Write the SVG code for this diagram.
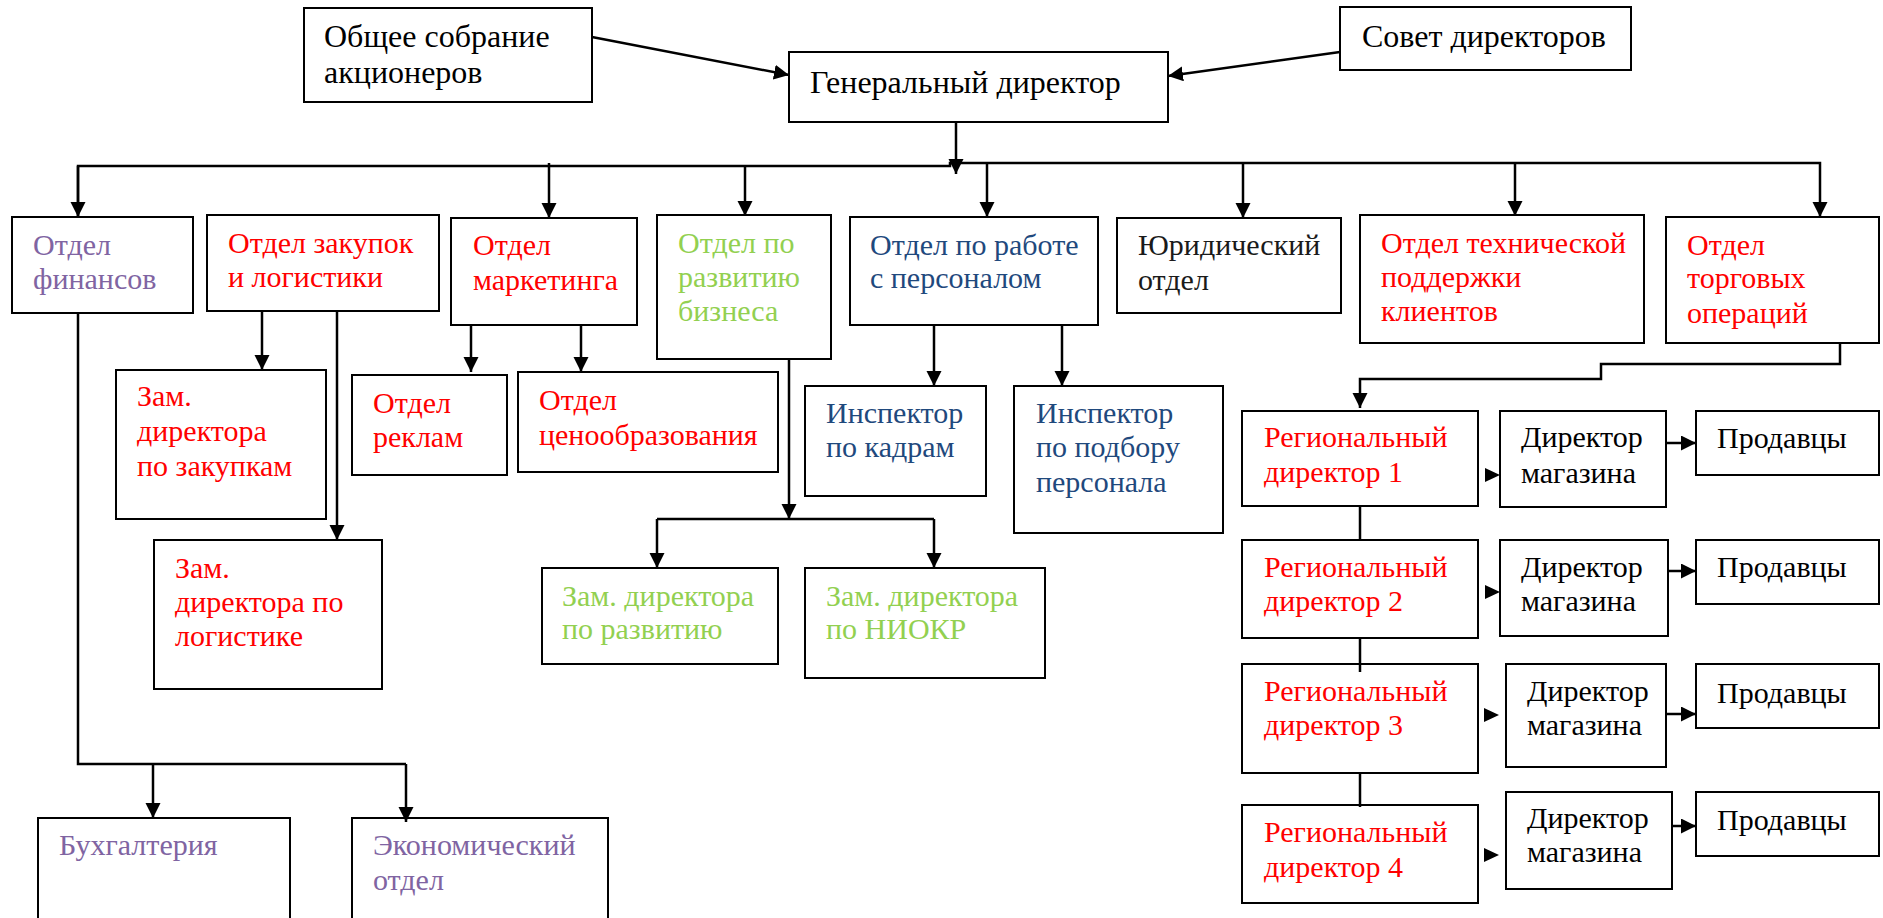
<svg xmlns="http://www.w3.org/2000/svg" width="1883" height="918" viewBox="0 0 1883 918" font-family="'Liberation Serif', serif">
<style>
rect{fill:#fff;stroke:#000;stroke-width:2}
text{font-family:'Liberation Serif','Times New Roman',serif;font-size:30px}
.big{font-size:32px}
.k{fill:#000}
.r{fill:#ff0000}
.p{fill:#8064a2}
.g{fill:#92d050}
.b{fill:#1f497d}
.c line,.c polyline{fill:none;stroke:#000;stroke-width:2.5}
.c .head{fill:#000;stroke:none}
</style>
<defs>
<marker id="ah" markerUnits="userSpaceOnUse" markerWidth="16" markerHeight="16" refX="15" refY="7.5" orient="auto">
<path d="M0,0 L15,7.5 L0,15 z" fill="#000"/>
</marker>
</defs>
<g id="n_obshchee"><rect x="304" y="8" width="288" height="94"/><text class="big k" x="324" y="47">Общее собрание</text><text class="big k" x="324" y="83">акционеров</text></g>
<g id="n_gendir"><rect x="789" y="52" width="379" height="70"/><text class="big k" x="810" y="93">Генеральный директор</text></g>
<g id="n_sovet"><rect x="1340" y="7" width="291" height="63"/><text class="big k" x="1362" y="47">Совет директоров</text></g>

<g id="n_fin"><rect x="12" y="217" width="181" height="96"/><text class="p" x="33" y="255">Отдел</text><text class="p" x="33" y="289">финансов</text></g>
<g id="n_zakup"><rect x="207" y="215" width="232" height="96"/><text class="r" x="228" y="253">Отдел закупок</text><text class="r" x="228" y="287">и логистики</text></g>
<g id="n_market"><rect x="451" y="218" width="186" height="107"/><text class="r" x="473" y="255">Отдел</text><text class="r" x="473" y="290">маркетинга</text></g>
<g id="n_razv"><rect x="657" y="215" width="174" height="144"/><text class="g" x="678" y="253">Отдел по</text><text class="g" x="678" y="287">развитию</text><text class="g" x="678" y="321">бизнеса</text></g>
<g id="n_pers"><rect x="850" y="217" width="248" height="108"/><text class="b" x="870" y="255">Отдел по работе</text><text class="b" x="870" y="288">с персоналом</text></g>
<g id="n_yur"><rect x="1117" y="218" width="224" height="95"/><text x="1138" y="255" fill="#1a1a1a">Юридический</text><text x="1138" y="290" fill="#1a1a1a">отдел</text></g>
<g id="n_tech"><rect x="1360" y="215" width="284" height="128"/><text class="r" x="1381" y="253">Отдел технической</text><text class="r" x="1381" y="287">поддержки</text><text class="r" x="1381" y="321">клиентов</text></g>
<g id="n_torg"><rect x="1666" y="217" width="213" height="126"/><text class="r" x="1687" y="255">Отдел</text><text class="r" x="1687" y="288">торговых</text><text class="r" x="1687" y="323">операций</text></g>

<g id="n_zamzak"><rect x="116" y="370" width="210" height="149"/><text class="r" x="137" y="406">Зам.</text><text class="r" x="137" y="441">директора</text><text class="r" x="137" y="476">по закупкам</text></g>
<g id="n_zamlog"><rect x="154" y="540" width="228" height="149"/><text class="r" x="175" y="578">Зам.</text><text class="r" x="175" y="612">директора по</text><text class="r" x="175" y="646">логистике</text></g>
<g id="n_reklam"><rect x="352" y="375" width="155" height="100"/><text class="r" x="373" y="413">Отдел</text><text class="r" x="373" y="447">реклам</text></g>
<g id="n_cen"><rect x="518" y="372" width="260" height="100"/><text class="r" x="539" y="410">Отдел</text><text class="r" x="539" y="445">ценообразования</text></g>
<g id="n_inskadr"><rect x="805" y="386" width="181" height="110"/><text class="b" x="826" y="423">Инспектор</text><text class="b" x="826" y="457">по кадрам</text></g>
<g id="n_inspodb"><rect x="1014" y="386" width="209" height="147"/><text class="b" x="1036" y="423">Инспектор</text><text class="b" x="1036" y="457">по подбору</text><text class="b" x="1036" y="492">персонала</text></g>
<g id="n_zamrazv"><rect x="542" y="568" width="236" height="96"/><text class="g" x="562" y="606">Зам. директора</text><text class="g" x="562" y="639">по развитию</text></g>
<g id="n_zamniokr"><rect x="805" y="568" width="240" height="110"/><text class="g" x="826" y="606">Зам. директора</text><text class="g" x="826" y="639">по НИОКР</text></g>

<g id="n_buh"><rect x="38" y="818" width="252" height="101"/><text class="p" x="59" y="855">Бухгалтерия</text></g>
<g id="n_econ"><rect x="352" y="818" width="256" height="101"/><text class="p" x="373" y="855">Экономический</text><text class="p" x="373" y="890">отдел</text></g>

<g id="n_reg1"><rect x="1242" y="411" width="236" height="95"/><text class="r" x="1264" y="447">Региональный</text><text class="r" x="1264" y="482">директор 1</text></g>
<g id="n_dm1"><rect x="1500" y="411" width="166" height="96"/><text class="k" x="1521" y="447">Директор</text><text class="k" x="1521" y="483">магазина</text></g>
<g id="n_pr1"><rect x="1696" y="411" width="183" height="64"/><text class="k" x="1717" y="448">Продавцы</text></g>
<g id="n_reg2"><rect x="1242" y="540" width="236" height="98"/><text class="r" x="1264" y="577">Региональный</text><text class="r" x="1264" y="611">директор 2</text></g>
<g id="n_dm2"><rect x="1500" y="540" width="168" height="96"/><text class="k" x="1521" y="577">Директор</text><text class="k" x="1521" y="611">магазина</text></g>
<g id="n_pr2"><rect x="1696" y="540" width="183" height="64"/><text class="k" x="1717" y="577">Продавцы</text></g>
<g id="n_reg3"><rect x="1242" y="664" width="236" height="109"/><text class="r" x="1264" y="701">Региональный</text><text class="r" x="1264" y="735">директор 3</text></g>
<g id="n_dm3"><rect x="1506" y="664" width="160" height="103"/><text class="k" x="1527" y="701">Директор</text><text class="k" x="1527" y="735">магазина</text></g>
<g id="n_pr3"><rect x="1696" y="664" width="183" height="64"/><text class="k" x="1717" y="703">Продавцы</text></g>
<g id="n_reg4"><rect x="1242" y="805" width="236" height="98"/><text class="r" x="1264" y="842">Региональный</text><text class="r" x="1264" y="877">директор 4</text></g>
<g id="n_dm4"><rect x="1506" y="792" width="166" height="97"/><text class="k" x="1527" y="828">Директор</text><text class="k" x="1527" y="862">магазина</text></g>
<g id="n_pr4"><rect x="1696" y="792" width="183" height="64"/><text class="k" x="1717" y="830">Продавцы</text></g>

<g id="connectors" class="c">
<line x1="592" y1="37" x2="789" y2="75" marker-end="url(#ah)"/>
<line x1="1340" y1="52" x2="1168" y2="76" marker-end="url(#ah)"/>
<line x1="956" y1="122" x2="956" y2="174" marker-end="url(#ah)"/>
<polyline points="78,217 78,166 950,166 950,163 1820,163 1820,217" marker-end="url(#ah)"/>
<line x1="78" y1="166" x2="78" y2="217" marker-end="url(#ah)"/>
<line x1="549" y1="163" x2="549" y2="218" marker-end="url(#ah)"/>
<line x1="745" y1="166" x2="745" y2="216" marker-end="url(#ah)"/>
<line x1="987" y1="163" x2="987" y2="217" marker-end="url(#ah)"/>
<line x1="1243" y1="163" x2="1243" y2="218" marker-end="url(#ah)"/>
<line x1="1515" y1="163" x2="1515" y2="216" marker-end="url(#ah)"/>

<polyline points="78,313 78,764 406,764"/>
<line x1="153" y1="764" x2="153" y2="818" marker-end="url(#ah)"/>
<line x1="406" y1="764" x2="406" y2="822" marker-end="url(#ah)"/>

<line x1="262" y1="311" x2="262" y2="370" marker-end="url(#ah)"/>
<line x1="337" y1="311" x2="337" y2="540" marker-end="url(#ah)"/>
<line x1="471" y1="325" x2="471" y2="372" marker-end="url(#ah)"/>
<line x1="581" y1="325" x2="581" y2="372" marker-end="url(#ah)"/>

<line x1="789" y1="359" x2="789" y2="519" marker-end="url(#ah)"/>
<polyline points="657,519 934,519"/>
<line x1="657" y1="519" x2="657" y2="568" marker-end="url(#ah)"/>
<line x1="934" y1="519" x2="934" y2="568" marker-end="url(#ah)"/>

<line x1="934" y1="325" x2="934" y2="386" marker-end="url(#ah)"/>
<line x1="1062" y1="325" x2="1062" y2="386" marker-end="url(#ah)"/>

<polyline points="1840,343 1840,364 1601,364 1601,379 1360,379 1360,408" marker-end="url(#ah)"/>
<line x1="1360" y1="506" x2="1360" y2="540"/>
<line x1="1360" y1="638" x2="1360" y2="672"/>
<line x1="1360" y1="773" x2="1360" y2="807"/>

<path class="head" d="M1485,468 L1500,475 L1485,482 z"/>
<path class="head" d="M1485,585 L1500,592 L1485,599 z"/>
<path class="head" d="M1484,708 L1499,715 L1484,722 z"/>
<path class="head" d="M1484,848 L1499,855 L1484,862 z"/>

<line x1="1666" y1="443" x2="1696" y2="443" marker-end="url(#ah)"/>
<line x1="1668" y1="571" x2="1696" y2="571" marker-end="url(#ah)"/>
<line x1="1666" y1="714" x2="1696" y2="714" marker-end="url(#ah)"/>
<line x1="1672" y1="826" x2="1696" y2="826" marker-end="url(#ah)"/>
</g>
</svg>
